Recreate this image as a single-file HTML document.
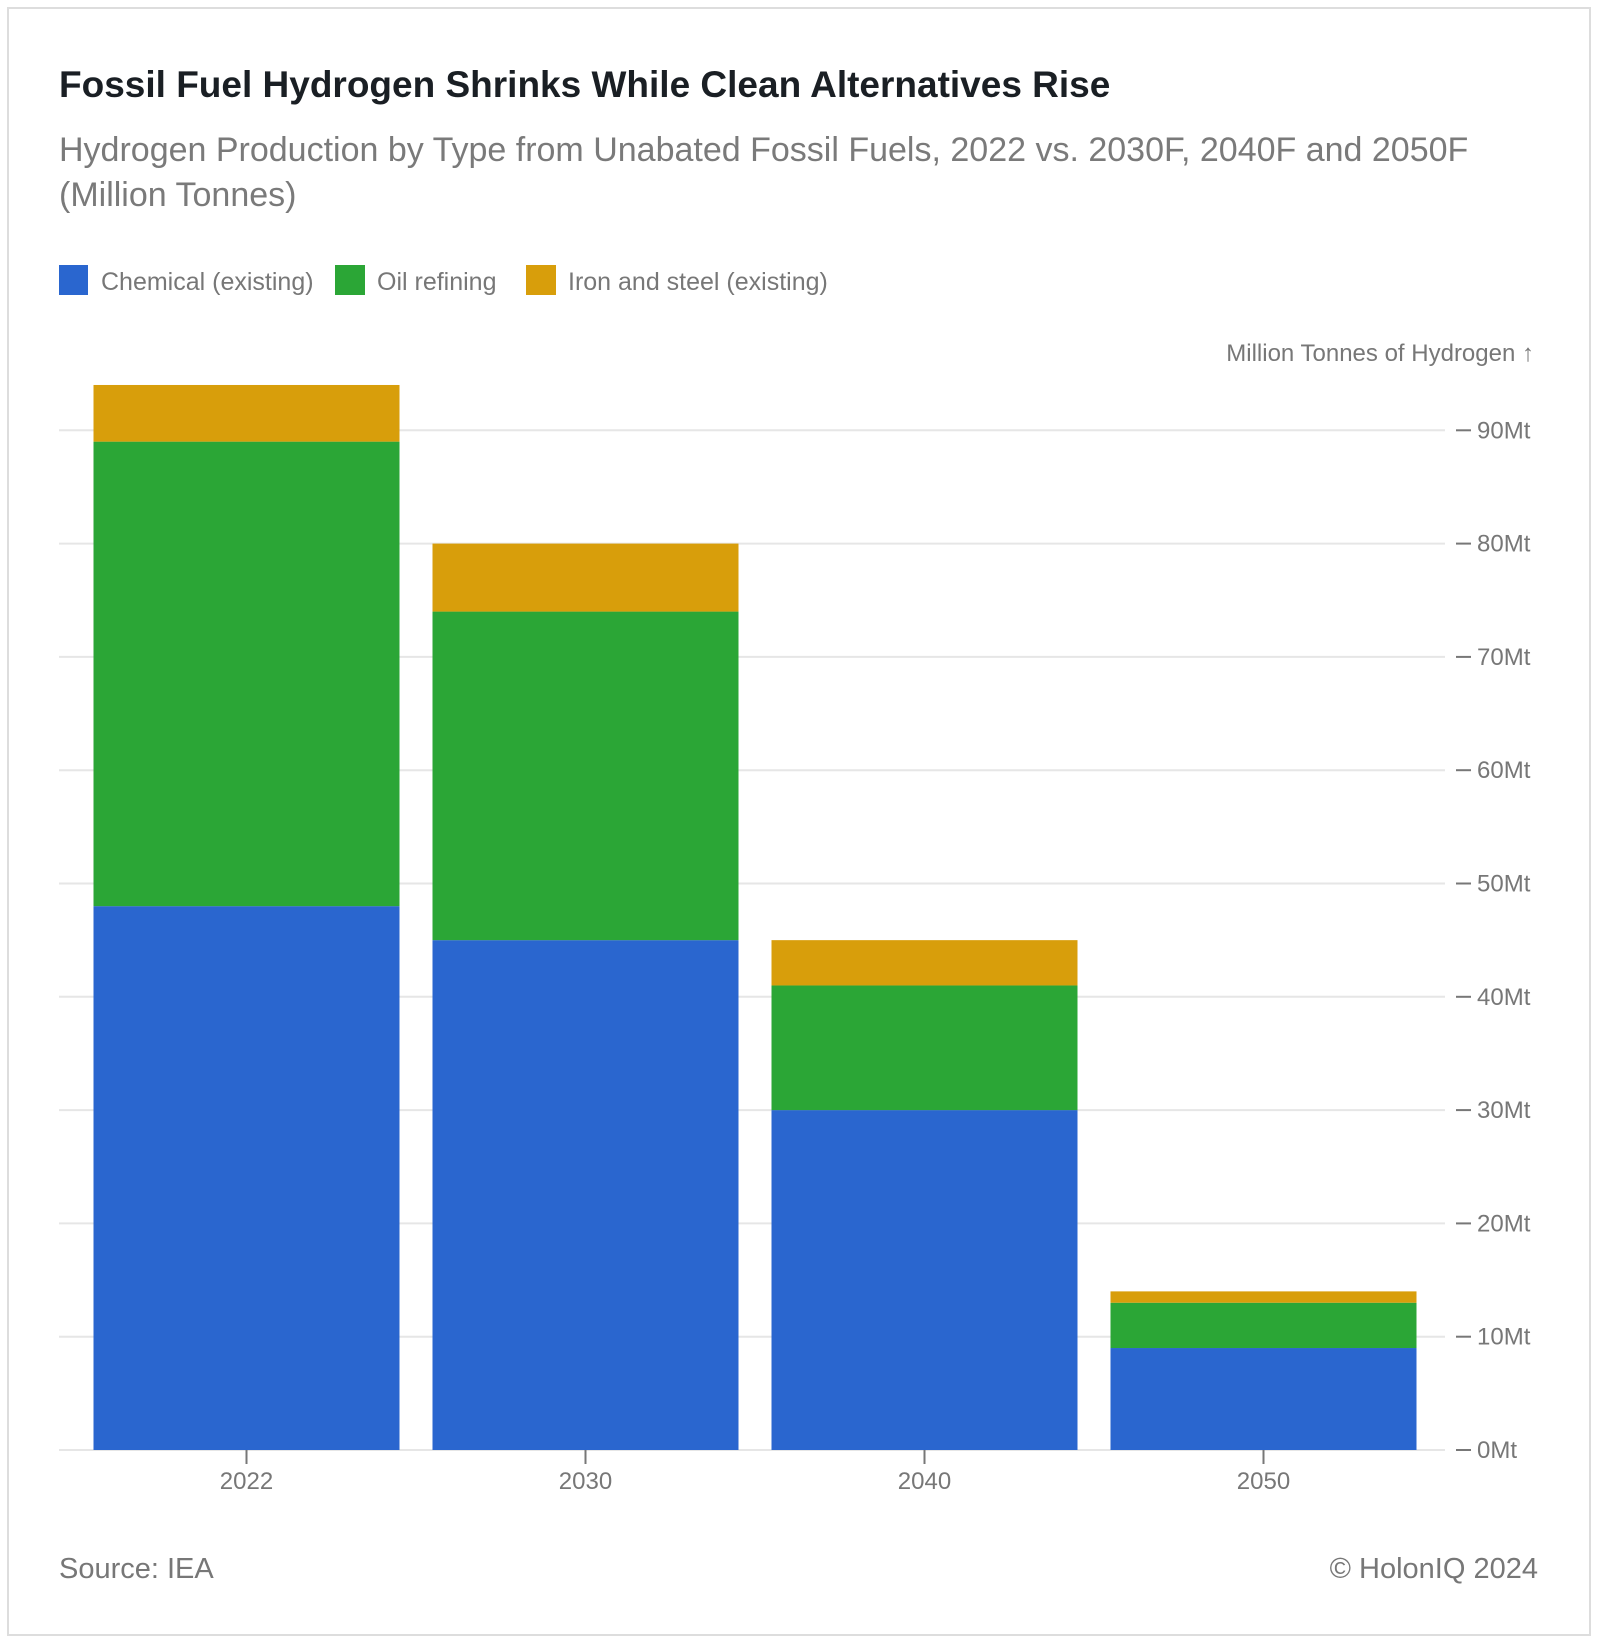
<!DOCTYPE html>
<html><head><meta charset="utf-8"><style>
body{margin:0;background:#fff;font-family:"Liberation Sans",sans-serif;}
.frame{position:absolute;left:7px;top:7px;width:1584px;height:1629px;border:2px solid #ddd;box-sizing:border-box;}
svg{position:absolute;left:0;top:0;}
</style></head><body>
<div class="frame"></div>
<svg id="c" width="1600" height="1646">
<text x="59" y="97" font-size="37" font-weight="bold" fill="#1a1f24">Fossil Fuel Hydrogen Shrinks While Clean Alternatives Rise</text>
<text x="59" y="161" font-size="34" fill="#7a7a7a">Hydrogen Production by Type from Unabated Fossil Fuels, 2022 vs. 2030F, 2040F and 2050F</text>
<text x="59" y="206" font-size="34" fill="#7a7a7a">(Million Tonnes)</text>
<g>
<rect x="59" y="265" width="29" height="30" fill="#2a66cf"/>
<text x="101" y="290" font-size="25" fill="#777">Chemical (existing)</text>
<rect x="335" y="265" width="30" height="30" fill="#2ba636"/>
<text x="377" y="290" font-size="25" fill="#777">Oil refining</text>
<rect x="526" y="265" width="30" height="30" fill="#d89e0b"/>
<text x="568" y="290" font-size="25" fill="#777">Iron and steel (existing)</text>
</g>
<text x="1534" y="361" font-size="24" fill="#777" text-anchor="end">Million Tonnes of Hydrogen ↑</text>
<g id="grid"></g><g id="bars"></g><g id="axes"></g>
<text x="59" y="1578" font-size="29" fill="#777">Source: IEA</text>
<text x="1538" y="1578" font-size="29" fill="#777" text-anchor="end">© HolonIQ 2024</text>
</svg>
<script>
const categories=["2022","2030","2040","2050"];
const chemical=[48,45,30,9];
const oilRefining=[41,29,11,4];
const ironSteel=[5,6,4,1];
const yTicks=[0,10,20,30,40,50,60,70,80,90];
const NS="http://www.w3.org/2000/svg";
const left=59,right=1445,base=1450,pxPer=11.33;
const y=v=>base-v*pxPer;
const barLeft=77,band=339;
const bw=306;
const xc=i=>barLeft+band*(i+0.5);
function mk(t,a,p){const e=document.createElementNS(NS,t);for(const k in a)e.setAttribute(k,a[k]);p.appendChild(e);return e;}
const g=document.getElementById('grid'),b=document.getElementById('bars'),ax=document.getElementById('axes');
yTicks.forEach(v=>{
 const l=mk('line',{x1:left,x2:right,y1:y(v),y2:y(v),stroke:'#e6e6e6','stroke-width':2},g);
 
 
 const t=mk('line',{x1:1456,x2:1471,y1:y(v),y2:y(v),stroke:'#777','stroke-width':2},ax);
 
 
 const tx=mk('text',{x:1477,y:y(v)+8,'font-size':24,fill:'#777'},ax);
 tx.textContent=v+'Mt';
 
 
});
const series=[[chemical,'#2a66cf','chemical'],[oilRefining,'#2ba636','oil-refining'],[ironSteel,'#d89e0b','iron-steel']];
categories.forEach((c,i)=>{
 let acc=0;
 series.forEach(([arr,col,nm])=>{
  const v=arr[i];
  const r=mk('rect',{x:xc(i)-bw/2,y:y(acc+v),width:bw,height:v*pxPer,fill:col},b);
  
  
  acc+=v;
 });
 const tk=mk('line',{x1:xc(i),x2:xc(i),y1:base,y2:base+14,stroke:'#777','stroke-width':2},ax);
 
 
 const tl=mk('text',{x:xc(i),y:base+39,'font-size':24,fill:'#777','text-anchor':'middle'},ax);
 tl.textContent=c;
 
 
});
</script>
</body></html>
